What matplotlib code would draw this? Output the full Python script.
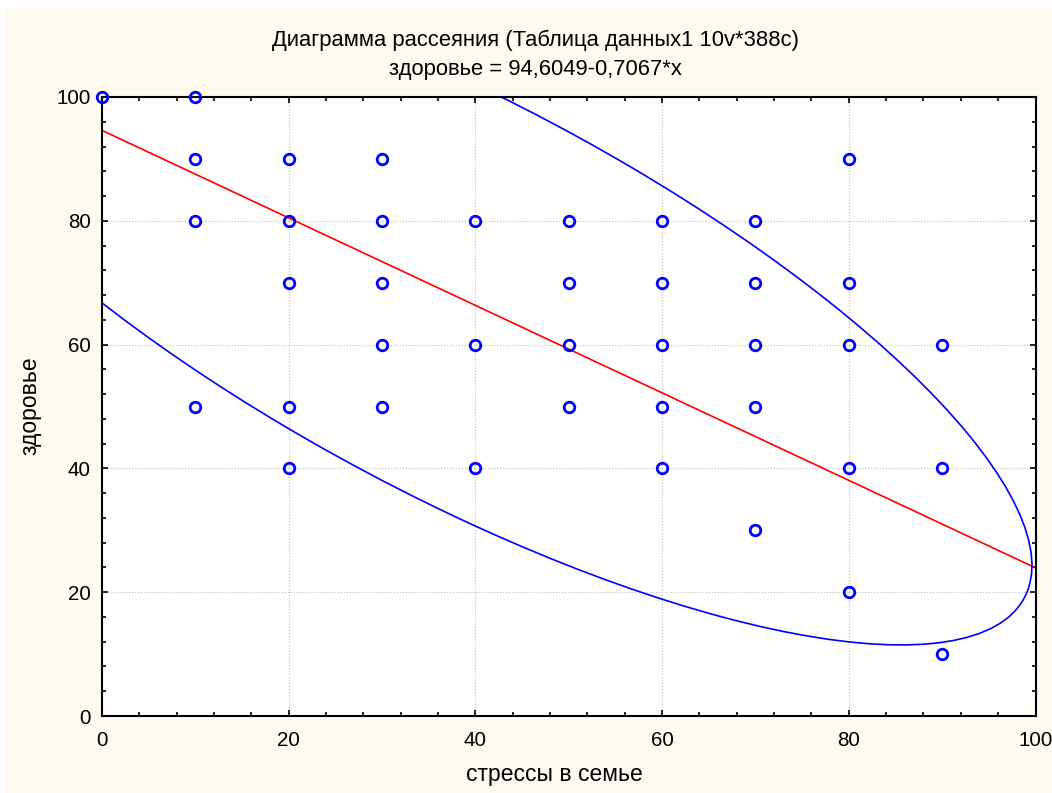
import numpy as np
import matplotlib
matplotlib.use("Agg")
import matplotlib.pyplot as plt
from matplotlib.patches import Rectangle, Ellipse

plt.rcParams['font.family'] = ['Liberation Sans', 'DejaVu Sans']

# data points (стрессы в семье, здоровье)
stress = [0, 10, 10, 10, 10,
          20, 20, 20, 20, 20,
          30, 30, 30, 30, 30,
          40, 40, 40,
          50, 50, 50, 50,
          60, 60, 60, 60, 60,
          70, 70, 70, 70, 70,
          80, 80, 80, 80, 80,
          90, 90, 90]
health = [100, 100, 90, 80, 50,
          90, 80, 70, 50, 40,
          90, 80, 70, 60, 50,
          80, 60, 40,
          80, 70, 60, 50,
          80, 70, 60, 50, 40,
          80, 70, 60, 50, 30,
          90, 70, 60, 40, 20,
          60, 40, 10]

# regression line
intercept = 94.6049
slope = -0.7067

# prediction ellipse (center, semi-axes, rotation in degrees)
ell_center = (38.36, 67.52)
ell_semi_axes = (78.17, 27.97)
ell_angle = 138.3

title_1 = 'Диаграмма рассеяния (Таблица данных1 10v*388c)'
title_2 = 'здоровье = 94,6049-0,7067*x'
x_label = 'стрессы в семье'
y_label = 'здоровье'

fig = plt.figure(figsize=(10.52, 7.93), dpi=100, facecolor='white')
fig.patches.append(Rectangle((6/1052, 0), 1, 1-8/793, transform=fig.transFigure,
                             facecolor='#FFFAF0', edgecolor='none', zorder=-10))
ax = fig.add_axes([102/1052, 1-716/793, (1035.5-102)/1052, (716-97)/793])
ax.set_facecolor('white')
ax.set_xlim(0, 100); ax.set_ylim(0, 100)
ax.set_xticks(range(0, 101, 20)); ax.set_yticks(range(0, 101, 20))
ax.set_xticks(range(0, 101, 4), minor=True); ax.set_yticks(range(0, 101, 4), minor=True)
ax.grid(True, which='major', color='#c0c0c0', linestyle=':', linewidth=0.8)
ax.tick_params(which='both', direction='in', top=True, right=True, width=1.2, labelsize=14.8)
ax.tick_params(which='major', length=4)
ax.tick_params(which='minor', length=3)
ax.tick_params(axis='x', pad=11)
ax.tick_params(axis='y', pad=8)
for s in ax.spines.values():
    s.set_linewidth(1.5)

ax.plot(stress, health, linestyle='none', marker='o', ms=7.6, mew=2.0,
        mfc='none', mec='#0000FF', clip_on=False, zorder=3)
xs = np.array([0, 100])
ax.plot(xs, intercept + slope*xs, color='#FF0000', lw=1.2, zorder=2)
ell = Ellipse(ell_center, 2*ell_semi_axes[0], 2*ell_semi_axes[1], angle=ell_angle,
              fill=False, edgecolor='#0000FF', lw=1.2, zorder=2)
ax.add_patch(ell)

fig.text(535/1052, 1-40/793, title_1, ha='center', va='center', fontsize=15.8)
fig.text(535/1052, 1-69/793, title_2, ha='center', va='center', fontsize=15.8)
fig.text(554/1052, 1-775/793, x_label, ha='center', va='center', fontsize=16.5)
fig.text(30/1052, 1-406/793, y_label, ha='center', va='center', rotation=90, fontsize=16.5)

fig.savefig('out.png', dpi=100, facecolor=fig.get_facecolor())
